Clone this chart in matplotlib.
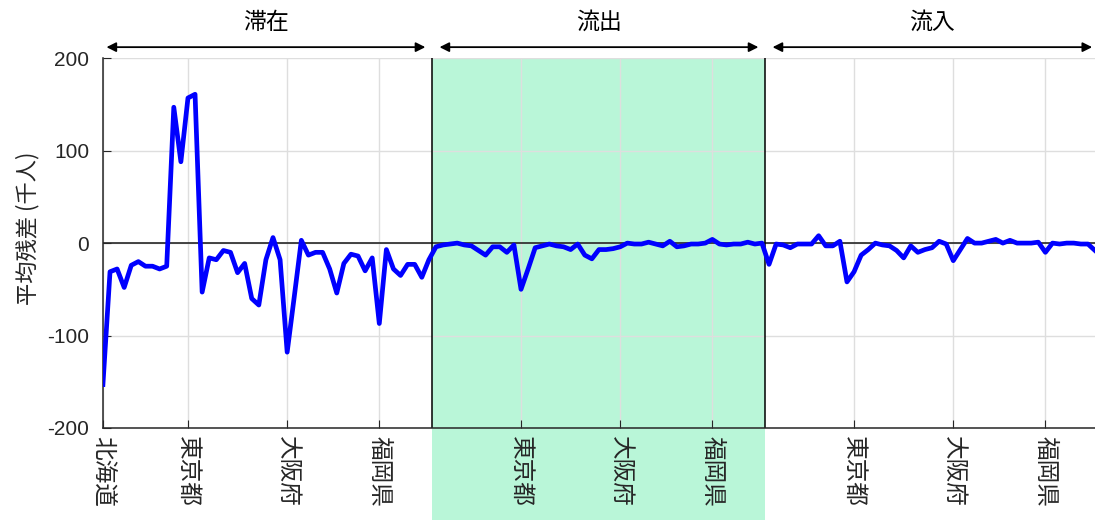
import numpy as np
import matplotlib
matplotlib.use("Agg")
import matplotlib.pyplot as plt
import matplotlib.transforms as mtransforms
from matplotlib.patches import Rectangle

plt.rcParams['font.family'] = ['Noto Sans CJK JP', 'DejaVu Sans']

# 平均残差 (千人), 47都道府県 x 3区分
stay = [-153, -31, -28, -48, -24, -20, -25, -25, -28, -25, 147, 88, 157, 161,
        -53, -16, -18, -8, -10, -32, -22, -60, -67, -18, 6, -18, -118, -58, 3,
        -13, -10, -10, -28, -54, -22, -12, -14, -30, -16, -87, -7, -28, -35,
        -23, -23, -37, -18]
outflow = [-4, -2, -1, 0, -2, -3, -8, -13, -4, -4, -10, -2, -50, -28, -5, -3,
           -1, -3, -4, -7, -1, -13, -17, -7, -7, -6, -4, 0, -1, -1, 1, -1, -3,
           2, -4, -3, -1, -1, 0, 4, -1, -2, -1, -1, 1, -1, 0]
inflow = [-23, -1, -2, -5, -1, -1, -1, 8, -3, -3, 2, -42, -31, -13, -7, 0, -2,
          -3, -8, -16, -3, -10, -7, -5, 2, -1, -19, -7, 5, 0, 0, 2, 4, 0, 3, 0,
          0, 0, 1, -10, 0, -1, 0, 0, -1, -1, -8]
segments = ["滞在", "流出", "流入"]
pref_names = ["北海道", "東京都", "大阪府", "福岡県"]
pref_index = [1, 13, 27, 40]
n_pref = 47

values = np.array(stay + outflow + inflow)
x = np.arange(1, len(values) + 1)

fig = plt.figure(figsize=(10.95, 5.2), dpi=100)
ax = fig.add_axes([0.094, 0.177, 0.906, 0.711])

dark = "#262626"

# 流出 の背景 (目盛ラベルの下まで)
trans = mtransforms.blended_transform_factory(ax.transData, ax.transAxes)
ax.add_patch(Rectangle((n_pref + 0.5, -0.4), n_pref, 1.4, transform=trans,
                       facecolor="#b9f6d8", edgecolor="none", clip_on=False, zorder=0))

ax.plot(x, values, color="#0000ff", lw=3.4, zorder=3, solid_joinstyle="round")
ax.axhline(0, color=dark, lw=1.2, zorder=2)
for b in [n_pref + 0.5, 2 * n_pref + 0.5]:
    ax.axvline(b, color="black", lw=1.1, zorder=2)

ticks = []
labels = []
for s in range(3):
    for name, idx in zip(pref_names, pref_index):
        if s > 0 and idx == 1:
            continue
        ticks.append(idx + s * n_pref)
        labels.append(name)

ax.set_xlim(1, len(values))
ax.set_ylim(-200, 200)
ax.set_xticks(ticks)
ax.set_xticklabels(labels, rotation=-90, fontsize=17, va="top", ha="center")
ax.set_yticks([-200, -100, 0, 100, 200])
ax.set_yticklabels(["-200", "-100", "0", "100", "200"], fontsize=15,
                   family=["Liberation Sans", "DejaVu Sans"])
ax.tick_params(direction="in", length=6, color=dark, labelcolor=dark)
ax.tick_params(axis="y", pad=10)
ax.tick_params(axis="x", pad=6)
ax.grid(True, color="#dedede", lw=1)
ax.set_axisbelow(True)
for side in ["top", "right"]:
    ax.spines[side].set_visible(False)
for side in ["left", "bottom"]:
    ax.spines[side].set_color(dark)
    ax.spines[side].set_linewidth(1.1)

ax.set_ylabel("平均残差 (千人)", fontsize=16, color=dark)
ax.yaxis.set_label_coords(-0.064, 0.54)

# 区分の矢印とラベル
for s, name in enumerate(segments):
    x0 = s * n_pref + 1.5
    x1 = (s + 1) * n_pref + 0.5 - 1.0
    if s == 2:
        x1 = len(values) - 0.4
    ax.annotate("", xy=(x1, 1.03), xytext=(x0, 1.03), xycoords=trans,
                textcoords=trans, annotation_clip=False,
                arrowprops=dict(arrowstyle="<|-|>", color="black", lw=1.3,
                                mutation_scale=14, shrinkA=0, shrinkB=0))
    ax.text((x0 + x1) / 2, 1.097, name, transform=trans, ha="center",
            va="center", fontsize=16.5, color="black")

fig.savefig("out.png", dpi=100)
